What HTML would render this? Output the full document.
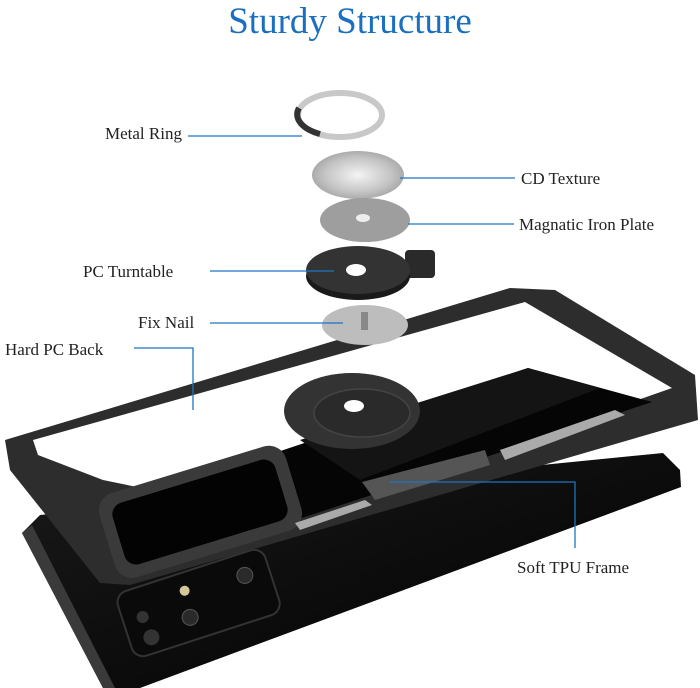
<!DOCTYPE html>
<html><head><meta charset="utf-8"><style>
html,body{margin:0;padding:0;background:#fff;}
svg{display:block;}
text{font-family:"Liberation Serif",serif;}
</style></head><body>
<svg width="700" height="688" viewBox="0 0 700 688" xmlns="http://www.w3.org/2000/svg">
<defs>
<radialGradient id="cd" cx="50%" cy="50%" r="60%"><stop offset="0" stop-color="#f4f4f4"/><stop offset="0.6" stop-color="#c4c4c4"/><stop offset="1" stop-color="#999"/></radialGradient>
<linearGradient id="ph" x1="0" y1="0" x2="1" y2="1"><stop offset="0" stop-color="#1a1a1a"/><stop offset="1" stop-color="#000"/></linearGradient>
</defs>
<text x="350" y="33" text-anchor="middle" font-size="37" fill="#1b6fc0">Sturdy Structure</text>

<!-- phone body below case -->
<polygon points="22,533 40,515 663,453 680,470 681,487 140,688 103,688" fill="url(#ph)"/>
<polygon points="22,533 103,688 115,688 32,525" fill="#3a3a3a"/>
<!-- camera on phone -->
<g transform="rotate(-18 195 600)">
<rect x="120" y="570" width="155" height="68" rx="12" fill="#0a0a0a" stroke="#333" stroke-width="2"/>
<circle cx="142" cy="622" r="8" fill="#333"/><circle cx="185" cy="615" r="8" fill="#2a2a2a" stroke="#555"/><circle cx="250" cy="592" r="8" fill="#2a2a2a" stroke="#555"/><circle cx="188" cy="588" r="5" fill="#d6c79a"/><circle cx="140" cy="600" r="6" fill="#333"/>
</g>
<!-- case frame -->
<polygon points="5,440 510,288 555,290 695,375 698,420 130,585 100,583 10,470" fill="#2d2d2d"/>
<polygon points="33,440 525,302 672,388 296,520 103,480 38,455" fill="#fff"/>
<!-- phone back through clear case -->
<polygon points="200,478 528,368 652,402 296,520 240,525" fill="#050505"/>
<polygon points="300,440 528,368 600,388 360,480" fill="#141414"/>
<!-- camera cutout on case -->
<g transform="rotate(-17 200 512)">
<rect x="103" y="468" width="195" height="88" rx="18" fill="#3a3a3a"/>
<rect x="115" y="480" width="170" height="64" rx="12" fill="#030303"/>
</g>
<!-- grey TPU accents -->
<polygon points="500,450 615,410 625,415 505,460" fill="#aaa"/>
<polygon points="295,523 365,500 372,505 300,530" fill="#aaa"/>
<polygon points="362,482 485,450 490,465 375,500" fill="#555"/>
<!-- big turntable on back -->
<ellipse cx="352" cy="411" rx="68" ry="38" fill="#333"/>
<ellipse cx="362" cy="413" rx="48" ry="24" fill="#2a2a2a" stroke="#444" stroke-width="1.5"/>
<ellipse cx="354" cy="406" rx="10" ry="6" fill="#fff"/>

<!-- metal ring -->
<ellipse cx="340" cy="115" rx="42" ry="22" fill="none" stroke="#c8c8c8" stroke-width="6"/>
<path d="M299,108 A42,22 0 0 0 320,134" fill="none" stroke="#333" stroke-width="6"/>
<!-- CD texture -->
<ellipse cx="358" cy="175" rx="46" ry="24" fill="url(#cd)"/>
<!-- iron plate -->
<ellipse cx="365" cy="220" rx="45" ry="22" fill="#9e9e9e"/>
<ellipse cx="363" cy="218" rx="7" ry="4" fill="#eee"/>
<!-- PC turntable -->
<rect x="405" y="250" width="30" height="28" rx="4" fill="#2a2a2a"/>
<ellipse cx="358" cy="276" rx="52" ry="24" fill="#1a1a1a"/>
<ellipse cx="358" cy="270" rx="52" ry="24" fill="#333"/>
<ellipse cx="356" cy="270" rx="10" ry="6" fill="#fff"/>
<!-- fix nail -->
<ellipse cx="365" cy="325" rx="43" ry="20" fill="#bdbdbd"/>
<rect x="361" y="312" width="7" height="18" fill="#888"/>

<!-- leader lines -->
<g stroke="#1f73c3" stroke-width="1.3" fill="none">
<line x1="188" y1="136" x2="302" y2="136"/>
<line x1="400" y1="178" x2="515" y2="178"/>
<line x1="408" y1="224" x2="514" y2="224"/>
<line x1="210" y1="271" x2="334" y2="271"/>
<line x1="210" y1="323" x2="343" y2="323"/>
<polyline points="134,348 193,348 193,410"/>
<polyline points="390,482 575,482 575,548"/>
</g>
<g font-size="17" fill="#222">
<text x="105" y="139">Metal Ring</text>
<text x="521" y="184">CD Texture</text>
<text x="519" y="230">Magnatic Iron Plate</text>
<text x="83" y="277">PC Turntable</text>
<text x="138" y="328">Fix Nail</text>
<text x="5" y="355">Hard PC Back</text>
<text x="517" y="573">Soft TPU Frame</text>
</g>
</svg>
</body></html>
